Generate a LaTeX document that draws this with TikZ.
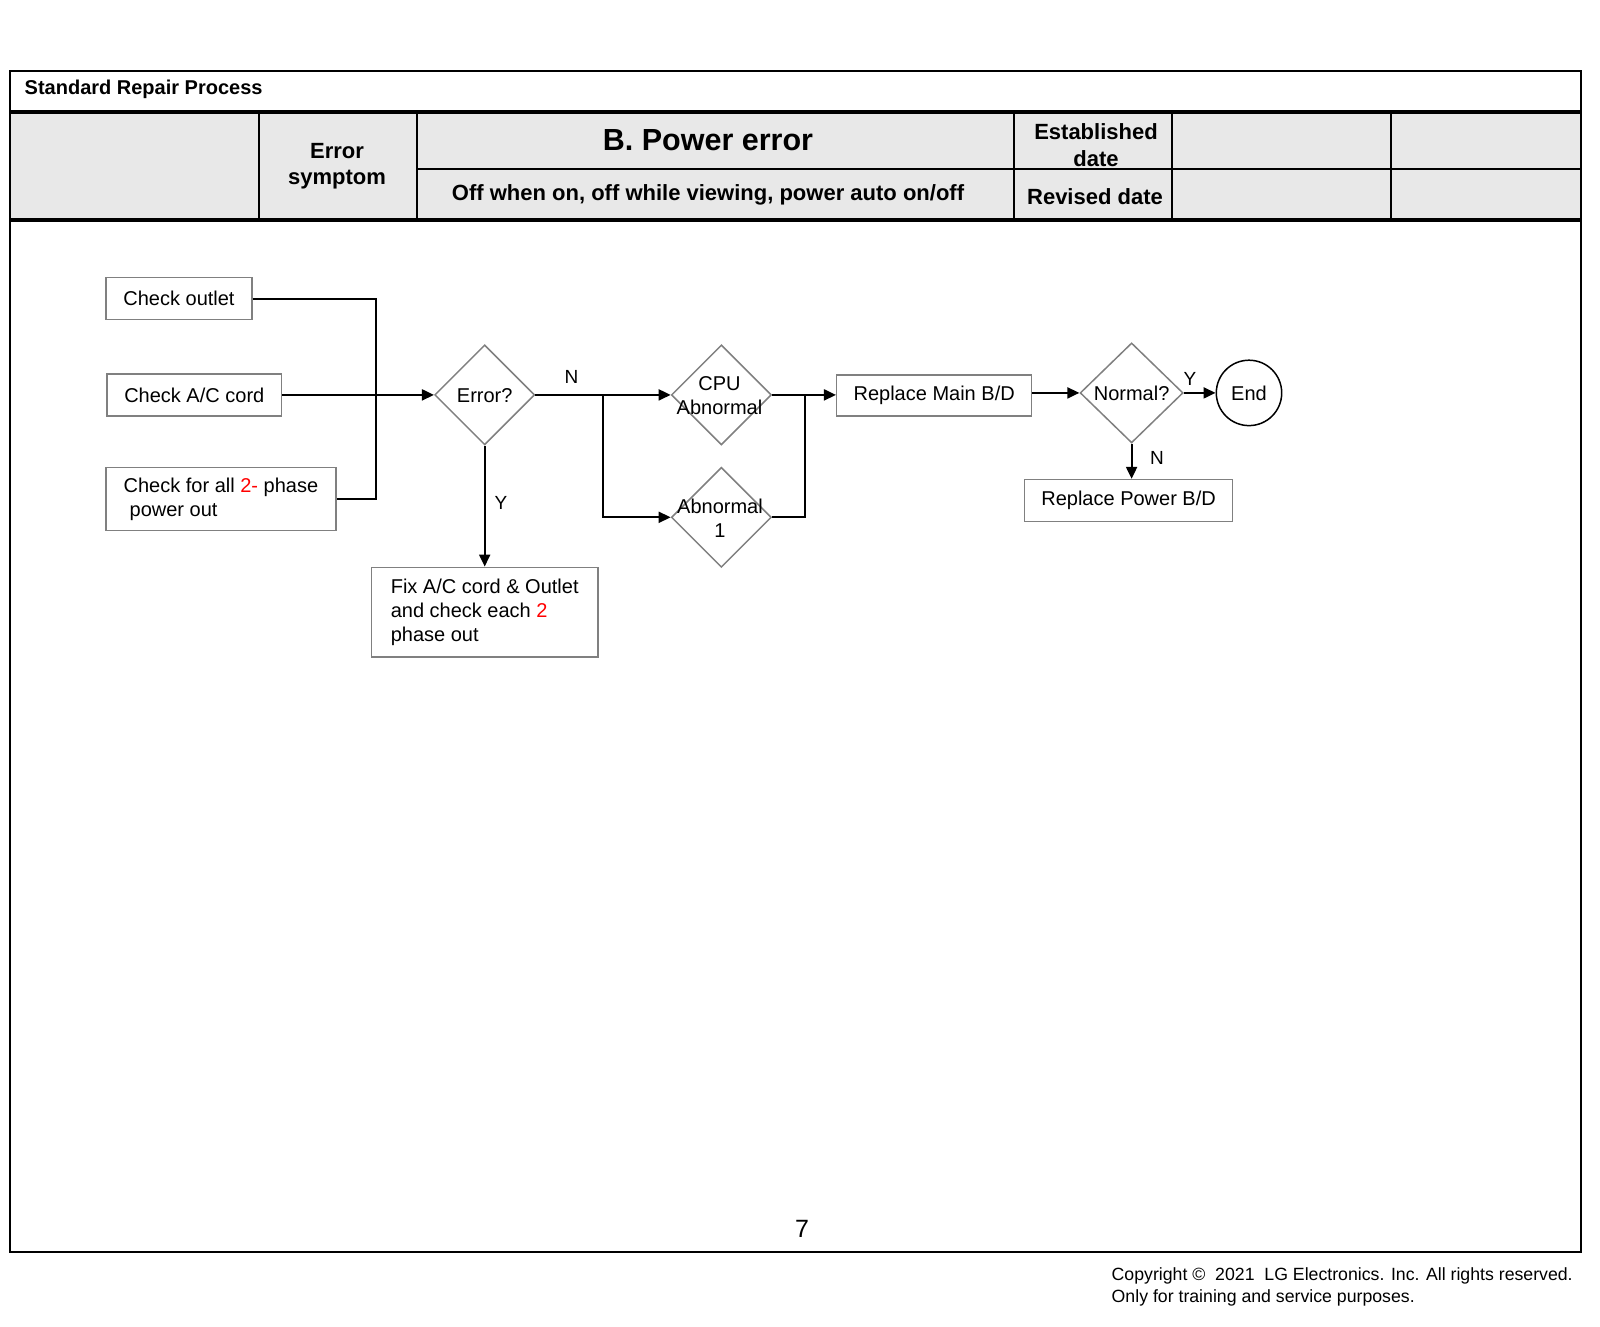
\documentclass[tikz,border=0pt]{standalone}
\usepackage{fontspec}
\setmainfont{Liberation Sans}
\usetikzlibrary{shapes.geometric,arrows.meta}
\definecolor{hdrgray}{HTML}{E8E8E8}
\definecolor{boxgray}{HTML}{808080}
\begin{document}
\begin{tikzpicture}[x=1pt,y=-1pt,
  fc/.style={font=\fontsize{20}{24}\selectfont},
  pbox/.style={fc,draw=boxgray,line width=1.5pt,inner sep=0pt},
  dia/.style={diamond,draw=boxgray,line width=1.5pt,inner sep=0pt,minimum width=100pt,minimum height=100pt},
  dtext/.style={fc,align=center,inner sep=0pt},
  conn/.style={line width=2pt},
  arr/.style={conn,-{Triangle[length=12pt,width=11pt]}},
  lbl/.style={font=\fontsize{19}{22}\selectfont,inner sep=0pt},
  hdr/.style={font=\bfseries\fontsize{22}{26.5}\selectfont,align=center,inner sep=0pt}
]
\useasboundingbox (0,0) rectangle (1600,1326);
% frame and header
\fill[hdrgray] (10.2,112) rectangle (1580.6,219.5);
\draw[line width=2pt] (10.2,71.4) rectangle (1580.6,1252);
\draw[line width=4pt] (10.2,112) -- (1580.6,112);
\draw[line width=4pt] (10.2,219.5) -- (1580.6,219.5);
\foreach \xx in {259.2,417.3,1014.3,1172.4,1390.8}
  \draw[line width=2pt] (\xx,112) -- (\xx,219.5);
\draw[line width=2pt] (417.3,169.4) -- (1580.6,169.4);
\node[anchor=west,inner sep=0pt,font=\bfseries\fontsize{20}{24}\selectfont] (title) at (24.5,89.5) {Standard Repair Process};
\node[hdr] (sym) at (337,166) {Error\\symptom};
\node[hdr,font=\bfseries\fontsize{30.5}{34}\selectfont] (perr) at (708,140.5) {B. Power error};
\node[hdr] (off) at (708,195) {Off when on, off while viewing, power auto on/off};
\node[hdr] (est) at (1096,145) {Established\\date};
\node[hdr] (rev) at (1095,197) {Revised date};
% flowchart boxes
\node[pbox,minimum width=146pt,minimum height=42pt] (outlet) at (179,298.5) {Check outlet};
\node[pbox,minimum width=174.6pt,minimum height=42pt] (cord) at (194.3,394.9) {Check A/C cord};
\node[pbox,minimum width=229.7pt,minimum height=63.3pt,align=left] (phase) at (220.9,499) {Check for all {\color{red}2-} phase\\\hspace{0.3em}power out};
\node[pbox,minimum width=226.6pt,minimum height=89.8pt,align=left] (fix) at (484.7,612.2) {Fix A/C cord \& Outlet\\and check each {\color{red}2}\\phase out};
\node[pbox,minimum width=195pt,minimum height=41pt] (main) at (934.2,395.4) {Replace Main B/D};
\node[pbox,minimum width=208.2pt,minimum height=41.8pt] (pwr) at (1128.6,500.5) {Replace Power B/D};
% diamonds
\node[dia] (err) at (484.7,394.9) {};
\node[dtext] (errt) at (484.7,395.5) {Error?};
\node[dia] (cpu) at (721.4,394.9) {};
\node[dtext] (cput) at (719.5,395.5) {CPU\\Abnormal};
\node[dia] (ab1) at (721.4,517.3) {};
\node[dtext] (ab1t) at (720,518) {Abnormal\\1};
\node[dia,minimum width=103pt] (norm) at (1131.6,392.9) {};
\node[dtext] (normt) at (1131.6,393.5) {Normal?};
\node[circle,draw=black,line width=1.5pt,minimum size=65.4pt,inner sep=0pt,fc] (end) at (1249,392.9) {End};
% connectors
\coordinate (busx) at (375.5,0);
\coordinate (jx) at (603,0);
\coordinate (mx) at (805,0);
\draw[conn] (outlet.east) -- (outlet.east -| busx) -- (phase.east -| busx) -- (phase.east);
\draw[arr] (cord.east) -- (err.west);
\draw[arr] (err.east) -- (cpu.west);
\draw[arr] (err.east -| jx) |- (ab1.west);
\draw[arr] (cpu.east) -- (cpu.east -| main.west);
\draw[conn] (ab1.east) -| (cpu.east -| mx);
\draw[arr] (err.south) -- (err.south |- fix.north);
\draw[arr] (main.east |- norm.west) -- (norm.west);
\draw[arr] (norm.east) -- (end.west);
\draw[arr] (norm.south) -- (norm.south |- pwr.north);
% labels
\node[lbl] (ln1) at (571.4,377) {N};
\node[lbl] (ly1) at (501,503) {Y};
\node[lbl] (ly2) at (1190,378.5) {Y};
\node[lbl] (ln2) at (1157,458) {N};
% footer
\node[inner sep=0pt,font=\fontsize{25}{28}\selectfont] (page) at (802,1229) {7};
\node[anchor=west,align=left,inner sep=0pt,font=\fontsize{17.7}{21.5}\selectfont] (copy) at (1111.5,1287) {Copyright ©\ \ 2021\ \ LG Electronics. Inc. All rights reserved.\\Only for training and service purposes.};
\end{tikzpicture}
\end{document}
